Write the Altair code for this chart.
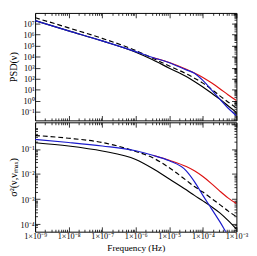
import math
import altair as alt
import pandas as pd

# ---------------- data (log10 values) ----------------
freq = [1e-9, 1e-8, 1e-7, 1e-6, 3.2e-6, 1e-5, 3.2e-5, 5.6e-5, 1e-4, 1.8e-4, 3.2e-4, 5.6e-4, 1e-3]
freq_red = freq[4:]

# top panel: log10 PSD
psd_solid = [7.26, 6.33, 5.42, 4.40, 3.72, 2.95, 2.20, 1.75, 1.25, 0.70, 0.15, -0.45, -1.05]
psd_dashed = [7.52, 6.60, 5.65, 4.55, 3.85, 3.15, 2.45, 2.05, 1.60, 1.05, 0.45, -0.10, -0.65]
psd_blue = [7.26, 6.33, 5.42, 4.45, 3.92, 3.45, 2.80, 2.50, 1.85, 1.00, 0.15, -0.65, -1.35]
psd_red = [3.92, 3.47, 2.86, 2.52, 2.12, 1.63, 1.10, 0.55, 0.02]

# bottom panel: log10 sigma^2
sig_solid = [-0.75, -0.88, -1.08, -1.42, -1.78, -2.20, -2.63, -2.85, -3.07, -3.30, -3.55, -3.85, -4.20]
sig_dashed = [-0.46, -0.57, -0.74, -1.10, -1.35, -1.75, -2.25, -2.50, -2.72, -2.97, -3.22, -3.47, -3.70]
sig_blue = [-0.62, -0.74, -0.88, -1.07, -1.25, -1.47, -1.87, -2.30, -2.85, -3.38, -3.90, -4.45, -5.00]
sig_red = [-1.25, -1.45, -1.70, -1.87, -2.10, -2.38, -2.68, -2.95, -3.18]

TOP_DOMAIN = [10 ** -1.77, 10 ** 7.95]
BOT_DOMAIN = [10 ** -4.3, 10 ** 0.065]

x_major = [1e-9, 1e-8, 1e-7, 1e-6, 1e-5, 1e-4, 1e-3]
top_y_major = [1e-2, 1e-1, 1e0, 1e1, 1e2, 1e3, 1e4, 1e5, 1e6, 1e7]
top_y_labelled = [1e-1, 1e0, 1e1, 1e2, 1e3, 1e4, 1e5, 1e6, 1e7]
bot_y_major = [1e-5, 1e-4, 1e-3, 1e-2, 1e-1, 1e0]


def ticks_in(majors, lo, hi, margin=0.0):
    # margin (in decades) keeps the invisible labels of the labelled axis inside the frame
    out = []
    for d in majors:
        out += [d * m for m in range(1, 10)]
    llo, lhi = math.log10(lo) + margin, math.log10(hi) - margin
    return [t for t in out if llo - 1e-3 <= math.log10(t) <= lhi + 1e-3]


x_ticks = ticks_in(x_major, 1e-9, 1e-3)
top_y_ticks = ticks_in(top_y_major, *TOP_DOMAIN)
bot_y_ticks = ticks_in(bot_y_major, *BOT_DOMAIN)
bot_y_ticks_left = ticks_in(bot_y_major, *BOT_DOMAIN, margin=0.17)


def frame(fs, vals, name):
    return pd.DataFrame({"f": fs, "v": [10 ** v for v in vals], "s": name})


top_df = {
    "solid": frame(freq, psd_solid, "solid"),
    "dashed": frame(freq, psd_dashed, "dashed"),
    "red": frame(freq_red, psd_red, "red"),
    "blue": frame(freq, psd_blue, "blue"),
}
bot_df = {
    "solid": frame(freq, sig_solid, "solid"),
    "dashed": frame(freq, sig_dashed, "dashed"),
    "red": frame(freq_red, sig_red, "red"),
    "blue": frame(freq, sig_blue, "blue"),
}

FONT = "Liberation Serif"
LOG = "log(datum.value)/LN10"
MAJOR = f"abs({LOG} - round({LOG})) < 0.001"
SUP = "['⁰','¹','²','³','⁴','⁵','⁶','⁷','⁸','⁹']"
EXPO = f"(round({LOG}) < 0 ? '⁻' : '') + {SUP}[abs(round({LOG}))]"
TICK = alt.ExprRef(expr=f"({MAJOR}) ? -5 : -2.5")

x_label_expr = f"({MAJOR}) ? ('1×10' + {EXPO}) : ''"
top_y_label_expr = f"(({MAJOR}) && round({LOG}) >= -1) ? ('10' + {EXPO}) : ''"
bot_y_label_expr = f"(({MAJOR}) && round({LOG}) <= -1) ? ('10' + {EXPO}) : ''"

styles = {
    "solid": dict(color="#000000"),
    "dashed": dict(color="#000000", strokeDash=[5, 3]),
    "red": dict(color="#dd1111"),
    "blue": dict(color="#1a1acc"),
}


def panel(dfs, ydomain, height, yticks, yticks_left, ylabel_expr, ytitle, bottom):
    xscale = alt.Scale(type="log", domain=[1e-9, 1e-3])
    yscale = alt.Scale(type="log", domain=ydomain)
    if bottom:
        xaxis = alt.Axis(orient="bottom", values=x_ticks, labelExpr=x_label_expr, tickSize=TICK,
                         labelPadding=5, labelOverlap=False, labelFlush=False, labelFontSize=8.5,
                         title="Frequency (Hz)", titlePadding=0, titleFontSize=9.5)
    else:
        xaxis = alt.Axis(orient="bottom", values=x_ticks, labels=False, tickSize=TICK, title=None)
    yaxis = alt.Axis(orient="left", values=yticks_left, labelExpr=ylabel_expr, tickSize=TICK,
                     labelPadding=6, labelOverlap=False, labelFlush=False, labelFontSize=8.5,
                     title=ytitle, titlePadding=2, titleFontSize=10.5)
    layers = []
    for i, key in enumerate(["solid", "dashed", "red", "blue"]):
        st = styles[key]
        kw = dict(strokeWidth=1.2, interpolate="monotone", clip=True, color=st["color"])
        if "strokeDash" in st:
            kw["strokeDash"] = st["strokeDash"]
        if i == 0:
            enc = dict(x=alt.X("f:Q", scale=xscale, axis=xaxis), y=alt.Y("v:Q", scale=yscale, axis=yaxis))
        else:
            enc = dict(x=alt.X("f:Q", scale=xscale, axis=None), y=alt.Y("v:Q", scale=yscale, axis=None))
        layers.append(alt.Chart(dfs[key]).mark_line(**kw).encode(**enc))
    mirror = alt.Chart(dfs["solid"]).mark_line(opacity=0).encode(
        x=alt.X("f:Q", scale=xscale, axis=alt.Axis(orient="top", values=x_ticks, labels=False,
                                                    tickSize=TICK, title=None)),
        y=alt.Y("v:Q", scale=yscale, axis=alt.Axis(orient="right", values=yticks, labels=False,
                                                    tickSize=TICK, title=None)),
    )
    return alt.layer(mirror, *layers).properties(width=208, height=height)


top = panel(top_df, TOP_DOMAIN, 111, top_y_ticks, top_y_labelled, top_y_label_expr, "PSD(ν)", False)
bot = panel(bot_df, BOT_DOMAIN, 113, bot_y_ticks, bot_y_ticks_left, bot_y_label_expr, "σ²(ν,νₘₐₓ)", True)

chart = alt.vconcat(top, bot, spacing=0).properties(padding=0).configure_view(
    stroke="black", strokeWidth=1
).configure_axis(
    domain=False, grid=False, labelFont=FONT, titleFont=FONT, labelFontSize=8, titleFontSize=9,
    titleFontWeight="normal", tickColor="black", labelColor="black", titleColor="black", tickWidth=0.8
)

chart.save("out.html", embed_options={"renderer": "svg", "actions": False})
